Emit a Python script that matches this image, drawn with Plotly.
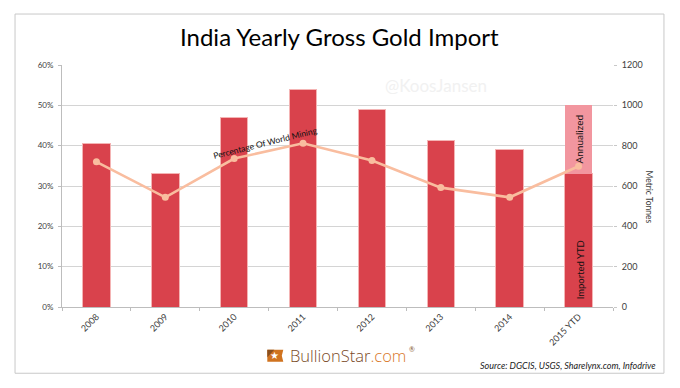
import plotly.graph_objects as go

years = ["2008", "2009", "2010", "2011", "2012", "2013", "2014", "2015 YTD"]
imported = [812, 662, 940, 1077, 980, 827, 780, 662]
annualized = [0, 0, 0, 0, 0, 0, 0, 338]
world_pct = [36.0, 27.2, 36.8, 40.6, 36.3, 29.6, 27.2, 34.9]
tonne_ticks = [0, 200, 400, 600, 800, 1000, 1200]
pct_ticks = [0, 10, 20, 30, 40, 50, 60]
pct_labels = [f"{p}%" for p in pct_ticks]

W, H = 680, 388
L, R, T, B = 61.5, 613.0, 64.5, 306.7
FONT = "Lato"
GRID = "#d4d4d4"
TICK = "#404040"


def px(x):
    return (x - L) / (R - L)


def py(y):
    return (B - y) / (B - T)


def note(x, y, text, size, color="#111111", angle=0, xanchor="center", font=FONT, weight=None):
    f = dict(family=font, size=size, color=color)
    if weight:
        f["weight"] = weight
    return dict(xref="paper", yref="paper", x=px(x), y=py(y), text=text, showarrow=False,
                textangle=angle, xanchor=xanchor, yanchor="middle", font=f)


fig = go.Figure()
fig.add_bar(x=years, y=imported, name="Imported YTD", yaxis="y",
            marker=dict(color="#d9424c", line=dict(color="#f4b4b4", width=1)))
fig.add_bar(x=years, y=annualized, name="Annualized", yaxis="y",
            marker=dict(color="#f2969f", line=dict(width=0)))
fig.add_scatter(x=years, y=world_pct, name="Percentage Of World Mining", yaxis="y2",
                mode="lines+markers", line=dict(color="#f9bd9f", width=2.6),
                marker=dict(color="#f9bd9f", size=7))

annotations = [
    note(339, 35.5, "India Yearly Gross Gold Import", 24, "#000000"),
    note(436, 85, "@KoosJansen", 17, "#f1f1f1"),
    note(265.5, 143, "Percentage Of World Mining", 8.5, "#111111", angle=-14),
    note(578.5, 138.5, "Annualized", 10, "#111111", angle=-90),
    note(580, 270, "Imported YTD", 9.5, "#111111", angle=-90),
    note(649, 197, "Metric Tonnes", 8.5, "#404040", angle=90),
    note(658, 365, "<i>Source: DGCIS, USGS, Sharelynx.com, Infodrive</i>", 9, "#222222", xanchor="right"),
    note(288, 355.5, "<span style='color:#7a4a26'>BullionStar</span><span style='color:#d9782a'>.com</span>",
         16.5, xanchor="left", font="Open Sans", weight=300),
    note(411.5, 348.5, "®", 7, "#8a5a30"),
    note(274.5, 355, "★", 10, "#ffffff"),
]


def poly(points, color):
    coords = [f"{px(x)},{py(y)}" for x, y in points]
    return dict(type="path", xref="paper", yref="paper", path="M" + " L".join(coords) + " Z",
                line=dict(width=0), fillcolor=color, layer="below")


shapes = [
    dict(type="rect", xref="paper", yref="paper", x0=px(14.5), x1=px(664), y0=py(373), y1=py(13.5),
         line=dict(color="#c8c8c8", width=1), fillcolor="rgba(0,0,0,0)", layer="below"),
    poly([(267, 349.5), (283, 349.5), (281.5, 355.5), (283, 361.5), (267, 361.5)], "#d0731f"),
    poly([(267, 349.5), (274, 349.5), (267, 357)], "#8a4f1e"),
]

fig.update_layout(
    width=W, height=H, autosize=False,
    margin=dict(l=L, r=W - R, t=T, b=H - B, pad=0),
    paper_bgcolor="#ffffff", plot_bgcolor="#ffffff",
    barmode="stack", bargap=0.6, showlegend=False,
    font=dict(family=FONT, size=9, color=TICK),
    xaxis=dict(type="category", tickangle=-45, ticks="outside", ticklen=3, tickcolor="#bdbdbd",
               tickson="boundaries", showline=True, linecolor="#bdbdbd", linewidth=1, showgrid=False,
               tickfont=dict(size=9, color=TICK), range=[-0.5, 7.5]),
    yaxis=dict(side="right", range=[0, 1200], tickvals=tonne_ticks, ticks="outside", ticklen=3,
               tickcolor="#c8c8c8", showline=False, showgrid=True, gridcolor=GRID, gridwidth=1,
               zeroline=False, ticklabelstandoff=3, tickfont=dict(size=9, color=TICK)),
    yaxis2=dict(side="left", overlaying="y", range=[0, 60], tickvals=pct_ticks, ticktext=pct_labels,
                ticks="outside", ticklen=3, tickcolor="#bdbdbd", showline=True, linecolor="#bdbdbd",
                linewidth=1, showgrid=False, zeroline=False, ticklabelstandoff=3,
                tickfont=dict(size=8, color=TICK)),
    annotations=annotations, shapes=shapes,
)

fig.write_html("out.html", config=dict(displayModeBar=False),
               post_script="document.body.style.margin='0';")
